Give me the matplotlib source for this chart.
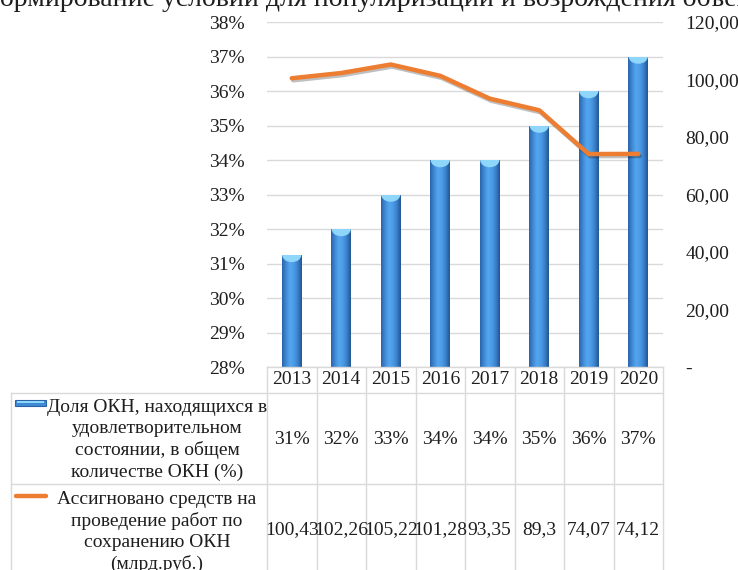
import matplotlib.pyplot as plt
import matplotlib.patheffects as pe
import numpy as np
from matplotlib.colors import LinearSegmentedColormap
from matplotlib.patches import Ellipse, Rectangle
from matplotlib.lines import Line2D
from matplotlib.transforms import blended_transform_factory

years = ["2013", "2014", "2015", "2016", "2017", "2018", "2019", "2020"]
share_pct = [31.25, 32, 33, 34, 34, 35, 36, 37]
share_labels = ["31%", "32%", "33%", "34%", "34%", "35%", "36%", "37%"]
funds = [100.43, 102.26, 105.22, 101.28, 93.35, 89.3, 74.07, 74.12]
funds_labels = ["100,43", "102,26", "105,22", "101,28", "93,35", "89,3", "74,07", "74,12"]

bar_label = "Доля ОКН, находящихся в\nудовлетворительном\nсостоянии, в общем\nколичестве ОКН (%)"
line_label = "Ассигновано средств на\nпроведение работ по\nсохранению ОКН\n(млрд.руб.)"
title = "формирование условий для популяризации и возрождения объектов"

W, H = 738, 570
TEXT = "#1e1e1e"
GRID = "#d9d9d9"
ORANGE = "#ed7d31"
FS = 14

plt.rcParams["font.family"] = ["Liberation Serif", "DejaVu Serif"]

blue_cmap = LinearSegmentedColormap.from_list(
    "cyl", ["#2a64a8", "#3f8ad6", "#55a6ee", "#4b9be6", "#3a80cc", "#23558f"])


def fx(x):
    return x / W


def fy(y):
    return 1 - y / H


fig = plt.figure(figsize=(W / 100, H / 100), dpi=100)
ax = fig.add_axes([fx(267), fy(367), fx(663) - fx(267), fy(22) - fy(367)])
ax2 = ax.twinx()

x = np.arange(len(years))
bars = ax.bar(x, share_pct, width=0.4, color="#4a9be6", zorder=2)

# fake the cylinder look: horizontal gradient + light cap, clipped to each bar
grad = np.linspace(0, 1, 64).reshape(1, -1)
for b in bars:
    x0, w, h = b.get_x(), b.get_width(), b.get_height()
    im = ax.imshow(grad, cmap=blue_cmap, extent=(x0, x0 + w, 28, h),
                   aspect="auto", zorder=3, interpolation="bicubic")
    im.set_clip_path(b)
    cap = Ellipse((x0 + w / 2, h), w * 0.9, 0.38, color="#8fd6fb", zorder=4)
    ax.add_patch(cap)
    cap.set_clip_path(b)
ax.set_xlim(-0.5, len(years) - 0.5)
ax.set_ylim(28, 38)
ax.set_yticks(range(28, 39))
ax.set_yticklabels([f"{v}%" for v in range(28, 39)])

ax.yaxis.grid(True, color=GRID, linewidth=1)
ax.set_axisbelow(True)
ax.set_xticks([])
for s in list(ax.spines.values()) + list(ax2.spines.values()):
    s.set_visible(False)
ax.tick_params(axis="y", length=0, pad=16, labelsize=FS, labelcolor=TEXT)

ax2.plot(x, funds, color=ORANGE, linewidth=3.2, solid_capstyle="round", zorder=5,
         path_effects=[pe.SimpleLineShadow(offset=(1, -1.5), alpha=0.25), pe.Normal()])
ax2.set_ylim(0, 120)
ax2.set_yticks(range(0, 121, 20))
ax2.set_yticklabels(["-" if v == 0 else f"{v:.2f}".replace(".", ",") for v in range(0, 121, 20)])
ax2.tick_params(axis="y", length=0, pad=16, labelsize=FS, labelcolor=TEXT)

# title, cut off at the top edge like in the source
fig.text(fx(-18), fy(6), title, fontsize=20, color=TEXT, ha="left", va="baseline")

# data table below the plot
tr = blended_transform_factory(ax.transData, fig.transFigure)
y_head, y_r1, y_r2, y_bot = fy(367), fy(393), fy(484), fy(600)
for i in range(len(years) + 1):
    fig.add_artist(Line2D([i - 0.5, i - 0.5], [y_head, y_bot], transform=tr, color=GRID, lw=1))
fig.add_artist(Line2D([-0.5, len(years) - 0.5], [y_head, y_head], transform=tr, color=GRID, lw=1))
for yy in (y_r1, y_r2):
    fig.add_artist(Line2D([fx(11), fx(663)], [yy, yy], transform=fig.transFigure, color=GRID, lw=1))
fig.add_artist(Line2D([fx(11), fx(11)], [y_r1, y_bot], transform=fig.transFigure, color=GRID, lw=1))

for i, yr in enumerate(years):
    fig.text(i, fy(380), yr, transform=tr, ha="center", va="center", fontsize=FS, color=TEXT)
    fig.text(i, fy(439), share_labels[i], transform=tr, ha="center", va="center", fontsize=FS, color=TEXT)
    fig.text(i, fy(530), funds_labels[i], transform=tr, ha="center", va="center", fontsize=FS, color=TEXT)

fig.text(fx(157), fy(440), bar_label, ha="center", va="center", multialignment="center",
         fontsize=FS, color=TEXT, linespacing=1.3)
fig.text(fx(157), fy(532), line_label, ha="center", va="center", multialignment="center",
         fontsize=FS, color=TEXT, linespacing=1.3)

# legend keys
fig.add_artist(Rectangle((fx(15), fy(406)), fx(31), fy(400) - fy(406), transform=fig.transFigure,
                         facecolor="#3f8ad6", edgecolor="#2a64a8", lw=0.8))
fig.add_artist(Rectangle((fx(17), fy(403)), fx(27), fy(401) - fy(403), transform=fig.transFigure,
                         facecolor="#8fd6fb", edgecolor="none"))
fig.add_artist(Line2D([fx(16), fx(46)], [fy(496), fy(496)], transform=fig.transFigure,
                      color=ORANGE, lw=3.2, solid_capstyle="round"))

fig.savefig("out.png", dpi=100, facecolor="white")
